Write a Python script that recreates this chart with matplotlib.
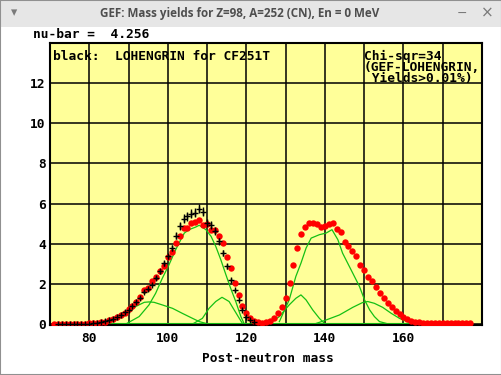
import numpy as np
import matplotlib
matplotlib.use('Agg')
import matplotlib.pyplot as plt
from matplotlib.patches import Rectangle

# GEF mass yields (red dots), post-neutron mass 71..177
gef_mass = list(range(71, 178))
gef_yield = [
    0.02, 0.02, 0.02, 0.02, 0.02, 0.02, 0.02, 0.02, 0.02, 0.03,   # 71-80
    0.04, 0.05, 0.08, 0.12, 0.18, 0.25, 0.33, 0.43, 0.55, 0.75,   # 81-90
    0.88, 1.10, 1.33, 1.70, 1.78, 2.15, 2.33, 2.65, 2.88, 3.33,   # 91-100
    3.58, 4.03, 4.40, 4.77, 4.78, 5.04, 5.06, 5.18, 4.95, 4.98,   # 101-110
    4.70, 4.66, 4.40, 4.03, 3.33, 2.78, 2.03, 1.43, 0.88, 0.54,   # 111-120
    0.28, 0.14, 0.08, 0.05, 0.08, 0.15, 0.28, 0.53, 0.85, 1.28,   # 121-130
    2.03, 2.93, 3.78, 4.50, 4.82, 5.03, 5.03, 4.98, 4.82, 4.90,   # 131-140
    4.97, 5.03, 4.73, 4.60, 4.08, 3.87, 3.65, 3.37, 2.93, 2.70,   # 141-150
    2.33, 2.15, 1.82, 1.53, 1.28, 1.03, 0.83, 0.67, 0.50, 0.36,   # 151-160
    0.25, 0.17, 0.12, 0.08, 0.06, 0.05, 0.04, 0.03, 0.03, 0.03,   # 161-170
    0.03, 0.03, 0.03, 0.03, 0.03, 0.03, 0.03,                     # 171-177
]

# LOHENGRIN data for Cf251 (black crosses with error bars), 72..122
loh_mass = list(range(72, 123))
loh_yield = [
    0, 0, 0, 0, 0, 0, 0, 0, 0,                                    # 72-80
    0.05, 0.07, 0.10, 0.14, 0.20, 0.27, 0.35, 0.45, 0.58, 0.72,   # 81-90
    0.92, 1.08, 1.30, 1.60, 1.73, 1.95, 2.28, 2.62, 3.03, 3.37,   # 91-100
    3.78, 4.40, 4.87, 5.25, 5.37, 5.50, 5.55, 5.75, 5.60, 5.05,   # 101-110
    4.95, 4.62, 4.12, 3.53, 2.87, 2.20, 1.67, 1.20, 0.70, 0.37,   # 111-120
    0.18, 0.08,                                                   # 121-122
]
loh_err = [
    0, 0, 0, 0, 0, 0, 0, 0, 0,
    0.01, 0.01, 0.01, 0.01, 0.02, 0.02, 0.02, 0.03, 0.03, 0.04,
    0.04, 0.05, 0.06, 0.07, 0.08, 0.08, 0.10, 0.11, 0.12, 0.14,
    0.15, 0.18, 0.20, 0.21, 0.22, 0.22, 0.22, 0.23, 0.22, 0.20,
    0.20, 0.19, 0.17, 0.14, 0.12, 0.09, 0.07, 0.05, 0.03, 0.02,
    0.01, 0.01,
]

# GEF fission-channel components (green lines)
s2_light_m = [89.3, 92.7, 95.2, 96.9, 98.6, 100.3, 102.0, 103.3, 104.2, 105.4, 107.1,
              108.0, 109.7, 111.0, 112.2, 113.5, 114.8, 116.0, 117.3, 118.6, 119.4]
s2_light_y = [0.0, 0.37, 0.95, 1.53, 2.28, 2.95, 3.70, 4.20, 4.53, 4.70, 4.83,
              4.92, 4.70, 4.37, 3.87, 3.20, 2.45, 1.78, 1.12, 0.37, 0.03]
s1_light_m = [106.3, 108.8, 110.5, 112.2, 113.8, 115.6, 116.9, 118.2, 119.0]
s1_light_y = [0.0, 0.28, 0.78, 1.12, 1.33, 1.12, 0.70, 0.28, 0.03]
s3_light_m = [81.6, 85.9, 89.3, 91.8, 94.0, 95.2, 96.5, 98.6, 101.2, 103.7, 106.3, 108.0, 109.7]
s3_light_y = [0.0, 0.17, 0.45, 0.87, 1.08, 1.10, 1.08, 0.95, 0.78, 0.53, 0.28, 0.12, 0.03]
s2_heavy_m = [128.4, 130.9, 132.6, 133.9, 135.2, 136.5, 138.6, 140.3, 141.8, 143.3,
              144.5, 145.8, 147.1, 148.8, 150.1, 151.4, 152.6, 153.9, 155.6]
s2_heavy_y = [0.12, 1.20, 2.37, 3.03, 3.78, 4.28, 4.45, 4.53, 4.70, 4.20,
              3.53, 3.03, 2.53, 1.87, 1.20, 0.70, 0.37, 0.12, 0.03]
s1_heavy_m = [125.9, 128.4, 130.9, 132.6, 133.9, 135.2, 136.9, 138.6, 139.9]
s1_heavy_y = [0.03, 0.37, 0.95, 1.28, 1.45, 1.20, 0.70, 0.28, 0.03]
s3_heavy_m = [137.8, 140.3, 143.7, 147.1, 149.6, 150.9, 152.6, 154.7, 156.9, 159.0, 161.5, 163.2]
s3_heavy_y = [0.03, 0.20, 0.45, 0.83, 1.07, 1.12, 1.03, 0.83, 0.53, 0.28, 0.07, 0.03]
base_m = [71, 177]
base_y = [0, 0]

W, H = 502, 375
def px(x, y):
    return x / W, 1 - y / H

mono = dict(family='DejaVu Sans Mono', weight='bold', size=9.3)

fig = plt.figure(figsize=(W / 100, H / 100), dpi=100)
fig.patch.set_facecolor('white')

# window frame + title bar
fig.patches.append(Rectangle(px(0, 27), 1, 27 / H, transform=fig.transFigure,
                             facecolor='#e6e6e6', edgecolor='none', zorder=0))
fig.patches.append(Rectangle((0, 0), 1, 1, transform=fig.transFigure, fill=False,
                             edgecolor='#909090', lw=1.5, zorder=1))
fig.text(*px(240, 13), 'GEF: Mass yields for Z=98, A=252 (CN), En = 0 MeV',
         ha='center', va='center', color='#4e4e4e', family='Open Sans',
         weight='bold', size=8.4)
fig.text(*px(14, 13), '\u25be', ha='center', va='center', color='#7a7a7a', size=9)
fig.text(*px(462, 13), '\u2212', ha='center', va='center', color='#7a7a7a', size=9)
fig.text(*px(487, 13), '\u00d7', ha='center', va='center', color='#7a7a7a', size=11)

ax = fig.add_axes([50 / W, 50 / H, 432 / W, 282 / H])
ax.set_facecolor('#ffff99')
ax.set_xlim(70, 180)
ax.set_ylim(-0.05, 14)

ax.set_xticks(range(80, 180, 10))
ax.set_xticklabels([str(m) if m % 20 == 0 else '' for m in range(80, 180, 10)], **mono)
ax.set_yticks(range(0, 14, 2))
ax.set_yticklabels([str(v) for v in range(0, 14, 2)], **mono)
ax.tick_params(length=0)
ax.tick_params(axis='x', pad=5)
ax.tick_params(axis='y', pad=3)
ax.grid(color='black', lw=1.1)
ax.set_axisbelow(True)
for s in ax.spines.values():
    s.set_linewidth(1.5)

green = '#14c014'
ax.plot(base_m, base_y, color=green, lw=1.5, zorder=2)
for xm, yv in [(s3_light_m, s3_light_y), (s2_light_m, s2_light_y), (s1_light_m, s1_light_y),
               (s1_heavy_m, s1_heavy_y), (s2_heavy_m, s2_heavy_y), (s3_heavy_m, s3_heavy_y)]:
    ax.plot(xm, yv, color=green, lw=0.9, zorder=2)

ax.plot(gef_mass, gef_yield, 'o', color='#ff0000', ms=4.6, mew=0, zorder=3)
ax.errorbar(loh_mass, loh_yield, yerr=loh_err, fmt='+', color='black', ms=4,
            mew=1, elinewidth=1, capsize=0, zorder=4)

fig.text(*px(33, 35), 'nu-bar =  4.256', ha='left', va='center', **mono)
fig.text(*px(53, 57), 'black:  LOHENGRIN for CF251T', ha='left', va='center', **mono)
fig.text(*px(364, 50), 'Chi-sqr=34\n(GEF-LOHENGRIN,\n Yields>0.01%)', ha='left',
         va='top', linespacing=0.78, **mono)
fig.text(*px(268, 358), 'Post-neutron mass', ha='center', va='center', **mono)

fig.savefig('out.png', dpi=100)
